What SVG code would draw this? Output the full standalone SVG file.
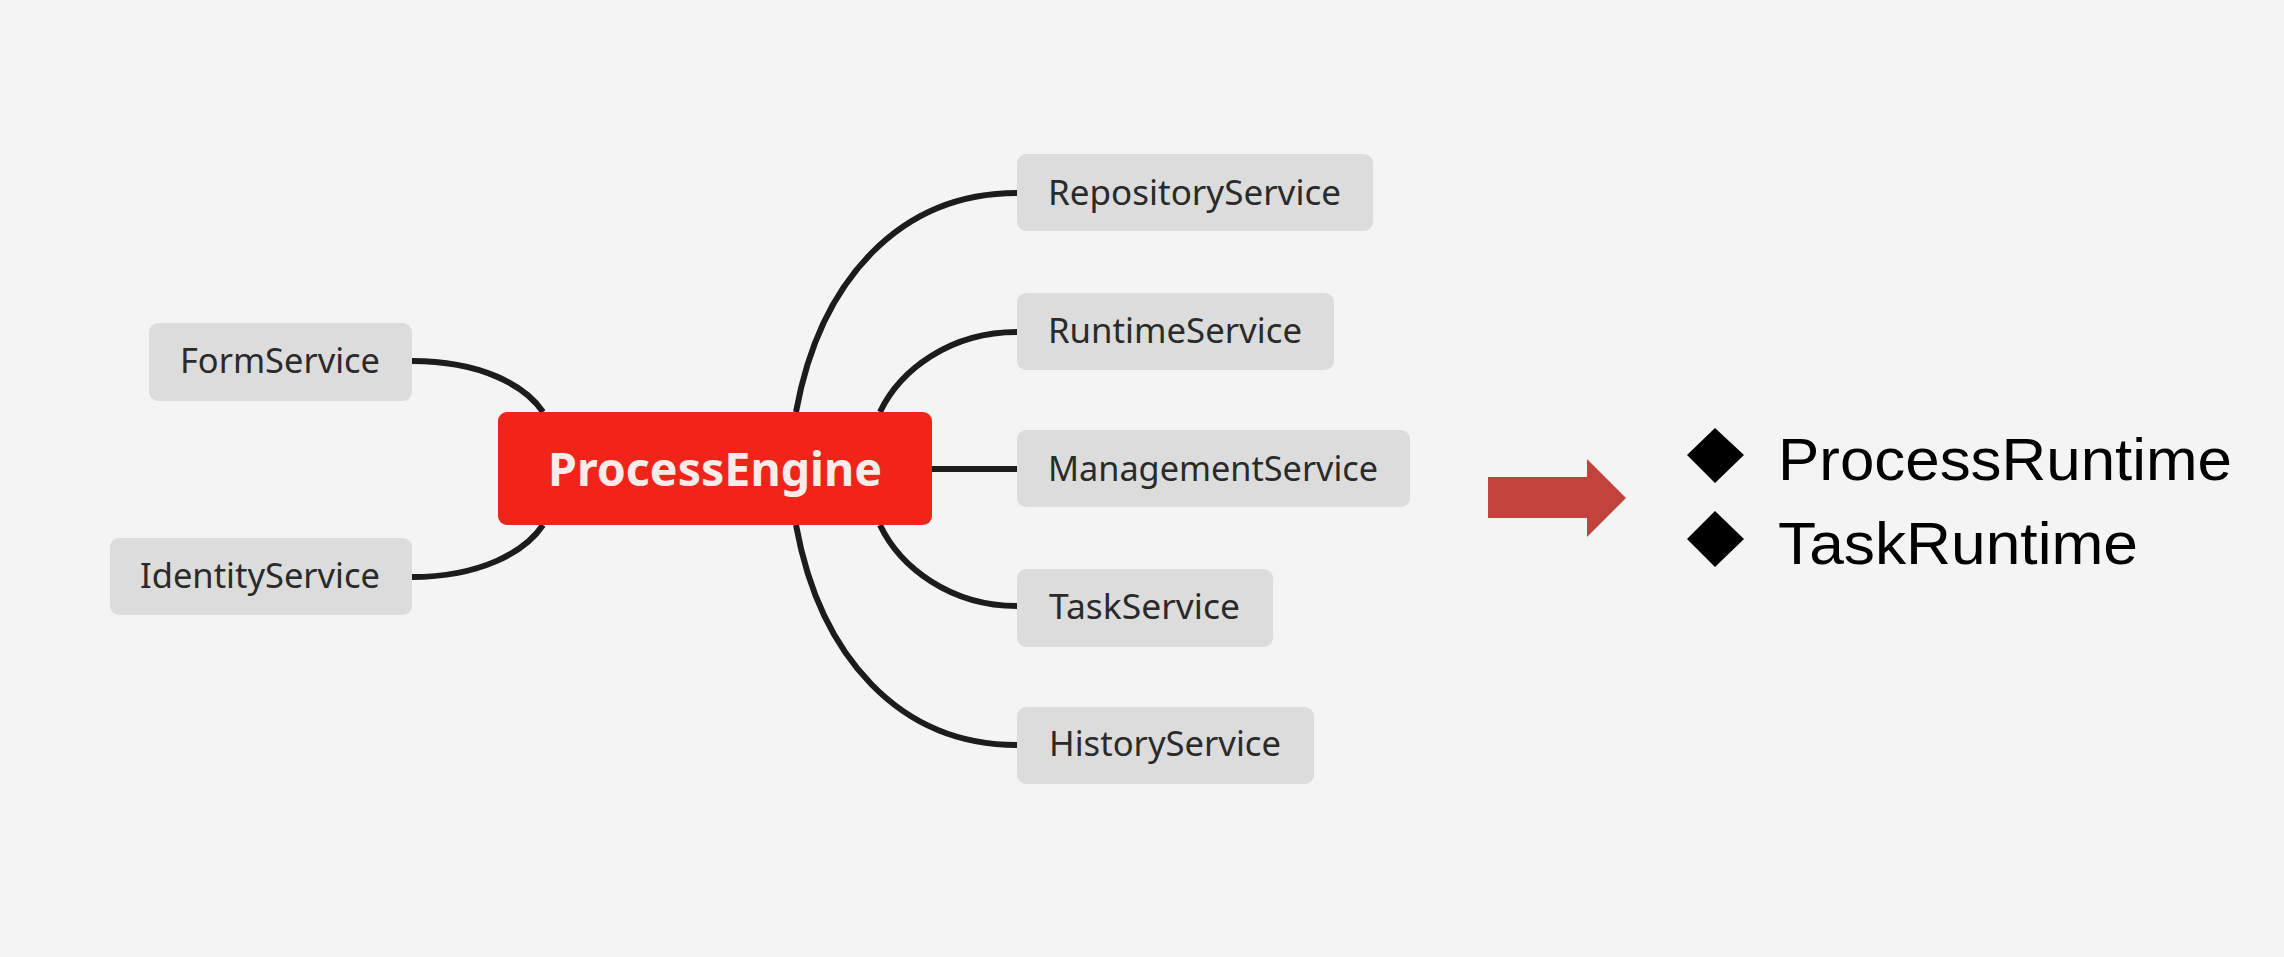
<svg xmlns="http://www.w3.org/2000/svg" width="2284" height="957" viewBox="0 0 2284 957">
<style>
.bg{fill:#f4f4f4}
.node rect{fill:#dcdcdc}
.node text{font-family:"Noto Sans","Open Sans",sans-serif;font-size:35px;fill:#2a2a2a}
.main rect{fill:#f02418}
.main text{font-family:"Noto Sans","Open Sans",sans-serif;font-size:47px;font-weight:bold;fill:#fbecea}
.conn path{fill:none;stroke:#1c1c1c;stroke-width:6;stroke-linecap:butt}
.bullet text{font-family:"Liberation Sans",Arial,sans-serif;font-size:60px;fill:#000}
</style>
<rect class="bg" x="0" y="0" width="2284" height="957"/>
<g id="connectors" class="conn">
<path d="M412,361 C480,361 525,385 543,412"/>
<path d="M412,577 C480,577 525,552 543,525"/>
<path d="M796,412 C820,280 900,193 1017,193"/>
<path d="M880,412 C900,370 950,332 1017,332"/>
<path d="M932,469 L1017,469"/>
<path d="M880,525 C900,567 950,606 1017,606"/>
<path d="M796,525 C820,657 900,745 1017,745"/>
</g>
<g id="ProcessEngine" class="main">
<rect x="498" y="412" width="434" height="113" rx="9"/>
<text x="548" y="486" textLength="334" lengthAdjust="spacingAndGlyphs">ProcessEngine</text>
</g>
<g id="FormService" class="node">
<rect x="149" y="323" width="263" height="78" rx="9"/>
<text x="180" y="373" textLength="200" lengthAdjust="spacingAndGlyphs">FormService</text>
</g>
<g id="IdentityService" class="node">
<rect x="110" y="538" width="302" height="77" rx="9"/>
<text x="140" y="588" textLength="240" lengthAdjust="spacingAndGlyphs">IdentityService</text>
</g>
<g id="RepositoryService" class="node">
<rect x="1017" y="154" width="356" height="77" rx="9"/>
<text x="1048" y="205" textLength="293" lengthAdjust="spacingAndGlyphs">RepositoryService</text>
</g>
<g id="RuntimeService" class="node">
<rect x="1017" y="293" width="317" height="77" rx="9"/>
<text x="1048" y="343" textLength="254" lengthAdjust="spacingAndGlyphs">RuntimeService</text>
</g>
<g id="ManagementService" class="node">
<rect x="1017" y="430" width="393" height="77" rx="9"/>
<text x="1048" y="481" textLength="330" lengthAdjust="spacingAndGlyphs">ManagementService</text>
</g>
<g id="TaskService" class="node">
<rect x="1017" y="569" width="256" height="78" rx="9"/>
<text x="1049" y="619" textLength="191" lengthAdjust="spacingAndGlyphs">TaskService</text>
</g>
<g id="HistoryService" class="node">
<rect x="1017" y="707" width="297" height="77" rx="9"/>
<text x="1049" y="756" textLength="232" lengthAdjust="spacingAndGlyphs">HistoryService</text>
</g>
<g id="arrow">
<path d="M1488,477 L1587,477 L1587,459 L1626,498 L1587,537 L1587,518 L1488,518 Z" fill="#c1433b"/>
</g>
<g id="runtimes" class="bullet">
<path d="M1715,428 L1744,455 L1715,483 L1687,455 Z" fill="#000"/>
<path d="M1715,511 L1744,539 L1715,567 L1687,539 Z" fill="#000"/>
<text x="1778" y="480" textLength="454" lengthAdjust="spacingAndGlyphs">ProcessRuntime</text>
<text x="1778" y="564" textLength="360" lengthAdjust="spacingAndGlyphs">TaskRuntime</text>
</g>
</svg>
